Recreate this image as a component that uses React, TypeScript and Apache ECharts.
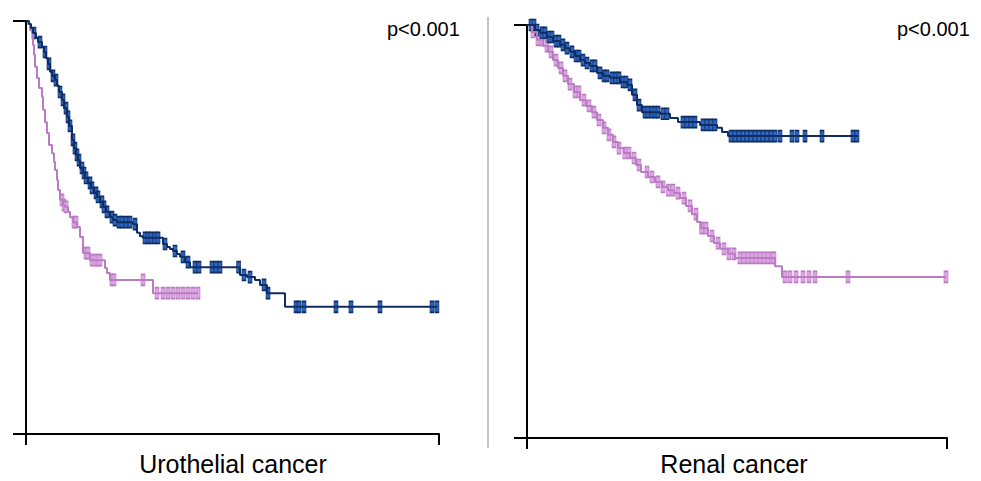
import { useEffect, useRef } from "react";
import * as echarts from "echarts";

// Time axis is normalised to 0-100 (no tick labels on the source), survival 0-1.
const panelTitles = ["Urothelial cancer", "Renal cancer"];
const pValues = ["p<0.001", "p<0.001"];

// Urothelial cancer – blue group: [time, survival after event]
const uroBlueEvents: [number, number][] = [
  [0, 1], [0.73, 0.993], [1.21, 0.983], [1.69, 0.971], [2.42, 0.959], [2.91, 0.949],
  [3.87, 0.937], [4.36, 0.925], [4.84, 0.91], [5.33, 0.896], [5.81, 0.877], [6.3, 0.867],
  [7.02, 0.857], [7.51, 0.843], [7.99, 0.828], [8.72, 0.809], [9.2, 0.789], [9.93, 0.768],
  [10.41, 0.746], [11.14, 0.712], [11.62, 0.692], [12.11, 0.676], [12.59, 0.663],
  [13.08, 0.644], [13.8, 0.632], [14.29, 0.62], [15.01, 0.608], [15.74, 0.596],
  [16.46, 0.584], [17.19, 0.574], [17.92, 0.562], [18.64, 0.55], [19.37, 0.538],
  [20.34, 0.525], [21.07, 0.518], [22.03, 0.513], [25.91, 0.508], [26.88, 0.487],
  [27.6, 0.479], [28.33, 0.475], [33.17, 0.46], [34.14, 0.453], [34.87, 0.448],
  [35.59, 0.443], [36.56, 0.436], [37.29, 0.429], [38.5, 0.416], [39.71, 0.404],
  [51.82, 0.385], [53.51, 0.38], [55.45, 0.373], [56.66, 0.361], [58.35, 0.341],
  [62.71, 0.308], [99.52, 0.308],
];
const uroBlueCensor: number[] = [
  1.94, 3.39, 4.6, 5.57, 6.54, 7.26, 8.23, 8.96, 9.69, 10.17, 10.65, 11.38, 11.86, 12.35,
  12.83, 13.56, 14.04, 14.53, 15.5, 15.98, 16.95, 17.43, 18.4, 18.89, 19.61, 20.82, 21.55,
  22.52, 23.24, 24.21, 25.18, 26.39, 28.81, 29.54, 30.27, 31.23, 31.96, 33.66, 36.08,
  38.01, 39.23, 40.92, 41.89, 45.04, 46.0, 46.97, 51.5, 52.78, 54.24, 57.63, 58.6, 65.38,
  66.1, 67.31, 75.06, 78.69, 85.71, 98.31, 99.5,
];

// Urothelial cancer – pink group
const uroPinkEvents: [number, number][] = [
  [0, 1], [0.48, 0.993], [0.97, 0.978], [1.45, 0.971], [1.69, 0.942], [1.94, 0.918],
  [2.18, 0.889], [2.66, 0.862], [3.15, 0.838], [3.87, 0.816], [4.12, 0.785], [4.6, 0.755],
  [5.08, 0.729], [5.57, 0.7], [6.3, 0.68], [6.78, 0.659], [7.02, 0.639], [7.51, 0.615],
  [7.75, 0.591], [8.23, 0.567], [8.96, 0.554], [9.44, 0.55], [10.17, 0.538], [10.65, 0.525],
  [11.38, 0.513], [12.35, 0.501], [13.08, 0.477], [13.8, 0.438], [15.5, 0.421],
  [19.13, 0.402], [19.61, 0.39], [20.34, 0.373], [30.75, 0.341], [41.65, 0.341],
];
const uroPinkCensor: number[] = [
  8.72, 9.2, 9.69, 11.62, 12.11, 14.53, 15.01, 15.98, 16.71, 17.43, 17.92, 20.82, 21.31,
  28.33, 31.72, 33.17, 34.38, 35.59, 36.8, 38.01, 39.23, 40.44, 41.65,
];

// Renal cancer – blue group
const renBlueEvents: [number, number][] = [
  [0, 1], [1.9, 0.988], [3.1, 0.981], [4.76, 0.971], [6.19, 0.961], [7.86, 0.952],
  [9.05, 0.944], [10.24, 0.935], [11.43, 0.925], [12.62, 0.915], [13.81, 0.908],
  [15.0, 0.901], [16.67, 0.884], [18.1, 0.877], [19.76, 0.872], [22.14, 0.862],
  [23.81, 0.855], [25.0, 0.831], [26.19, 0.806], [27.38, 0.789], [31.67, 0.785],
  [34.05, 0.775], [35.95, 0.765], [41.19, 0.758], [45.24, 0.751], [46.43, 0.741],
  [47.86, 0.731], [78.81, 0.731],
];
const renBlueCensor: number[] = [
  0.95, 1.67, 2.38, 3.57, 4.29, 5.24, 5.95, 6.9, 7.62, 8.57, 9.52, 10.71, 11.67, 12.38,
  13.33, 14.29, 15.48, 16.19, 17.38, 18.33, 19.05, 20.24, 21.19, 21.9, 22.86, 23.57,
  24.52, 25.71, 26.67, 28.1, 28.81, 29.76, 30.48, 31.19, 32.38, 33.33, 37.14, 38.1,
  39.05, 40.0, 41.9, 42.86, 43.81, 44.76, 48.57, 49.52, 50.48, 51.43, 52.38, 53.33,
  54.29, 55.24, 56.19, 57.14, 58.1, 59.05, 60.24, 63.1, 64.29, 66.19, 70.24, 77.62, 78.57,
];

// Renal cancer – pink group
const renPinkEvents: [number, number][] = [
  [0, 1], [1.19, 0.983], [2.38, 0.964], [3.81, 0.949], [5.0, 0.935], [6.19, 0.915],
  [7.38, 0.896], [8.57, 0.877], [9.76, 0.857], [11.19, 0.838], [12.62, 0.818],
  [14.05, 0.804], [15.48, 0.789], [16.67, 0.77], [18.1, 0.751], [19.29, 0.734],
  [20.48, 0.717], [21.67, 0.702], [23.1, 0.69], [24.52, 0.678], [25.95, 0.661],
  [27.14, 0.644], [28.81, 0.632], [30.48, 0.62], [32.14, 0.608], [33.57, 0.6],
  [34.98, 0.593], [36.43, 0.581], [37.86, 0.562], [39.29, 0.542], [40.48, 0.523],
  [41.43, 0.508], [43.1, 0.489], [44.52, 0.472], [45.95, 0.458], [47.86, 0.446],
  [49.52, 0.436], [59.05, 0.416], [60.71, 0.39], [99.76, 0.39],
];
const renPinkCensor: number[] = [
  1.43, 2.62, 3.57, 4.76, 5.71, 6.9, 8.1, 9.05, 10.24, 11.43, 12.38, 13.57, 14.76, 15.95,
  17.14, 18.33, 19.52, 20.71, 21.9, 23.3, 24.29, 25.48, 26.67, 28.57, 29.76, 31.19,
  32.38, 33.7, 34.76, 35.95, 37.38, 38.81, 40.24, 41.6, 42.62, 44.05, 45.48, 46.9, 48.1,
  49.29, 50.71, 51.67, 52.62, 53.57, 54.52, 55.48, 56.43, 57.38, 58.33, 58.8, 61.43,
  62.62, 64.05, 65.71, 67.14, 68.57, 76.43, 99.76,
];

const BLUE_LINE = "#0f2c63";
const BLUE_FILL = "#2f66bd";
const PINK_LINE = "#b97cc3";
const PINK_FILL = "#dea7e3";
const FONT = "'Liberation Sans', Arial, sans-serif";

function survivalAt(events: [number, number][], t: number): number {
  let s = events[0][1];
  for (const [et, es] of events) {
    if (et <= t) s = es;
    else break;
  }
  return s;
}

function curve(idx: number, events: [number, number][], color: string) {
  return {
    type: "line",
    xAxisIndex: idx,
    yAxisIndex: idx,
    step: "end",
    showSymbol: false,
    data: events,
    lineStyle: { color, width: 2 },
    silent: true,
  };
}

function censor(idx: number, events: [number, number][], times: number[], fill: string, border: string) {
  return {
    type: "scatter",
    xAxisIndex: idx,
    yAxisIndex: idx,
    symbol: "rect",
    symbolSize: [4, 11],
    data: times.map((t) => [t, survivalAt(events, t)]),
    itemStyle: { color: fill, borderColor: border, borderWidth: 1, opacity: 1 },
    silent: true,
  };
}

function axisCommon(idx: number) {
  return {
    gridIndex: idx,
    type: "value",
    axisLine: { show: true, lineStyle: { color: "#000", width: 2 } },
    axisLabel: { show: false },
    splitLine: { show: false },
  };
}

export default function App() {
  const ref = useRef<HTMLDivElement>(null);
  useEffect(() => {
    if (!ref.current) return;
    const chart = echarts.init(ref.current, null, { renderer: "svg" });
    chart.setOption({
      animation: false,
      backgroundColor: "#ffffff",
      grid: [
        { left: 26, top: 21, width: 413, height: 413 },
        { left: 527, top: 25, width: 420, height: 413 },
      ],
      xAxis: [0, 1].map((i) => ({
        ...axisCommon(i),
        min: 0,
        max: 100,
        interval: 100,
        axisTick: { show: true, length: 11, lineStyle: { color: "#000", width: 2 } },
      })),
      yAxis: [0, 1].map((i) => ({
        ...axisCommon(i),
        min: 0,
        max: 1,
        interval: 1,
        axisTick: { show: true, length: 13, lineStyle: { color: "#000", width: 2 } },
      })),
      series: [
        curve(0, uroPinkEvents, PINK_LINE),
        censor(0, uroPinkEvents, uroPinkCensor, PINK_FILL, PINK_LINE),
        curve(0, uroBlueEvents, BLUE_LINE),
        censor(0, uroBlueEvents, uroBlueCensor, BLUE_FILL, BLUE_LINE),
        curve(1, renPinkEvents, PINK_LINE),
        censor(1, renPinkEvents, renPinkCensor, PINK_FILL, PINK_LINE),
        curve(1, renBlueEvents, BLUE_LINE),
        censor(1, renBlueEvents, renBlueCensor, BLUE_FILL, BLUE_LINE),
      ],
      graphic: [
        { type: "line", shape: { x1: 488, y1: 17, x2: 488, y2: 448 }, style: { stroke: "#c4c4c4", lineWidth: 2 } },
        { type: "text", x: 387, y: 29, style: { text: pValues[0], font: `20px ${FONT}`, fill: "#000", textVerticalAlign: "middle" } },
        { type: "text", x: 897, y: 29, style: { text: pValues[1], font: `20px ${FONT}`, fill: "#000", textVerticalAlign: "middle" } },
        { type: "text", x: 233, y: 464, style: { text: panelTitles[0], font: `25px ${FONT}`, fill: "#000", textAlign: "center", textVerticalAlign: "middle" } },
        { type: "text", x: 734, y: 464, style: { text: panelTitles[1], font: `25px ${FONT}`, fill: "#000", textAlign: "center", textVerticalAlign: "middle" } },
      ],
    });
    return () => chart.dispose();
  }, []);
  return <div ref={ref} style={{ position: "fixed", left: 0, top: 0, width: 981, height: 481 }} />;
}
